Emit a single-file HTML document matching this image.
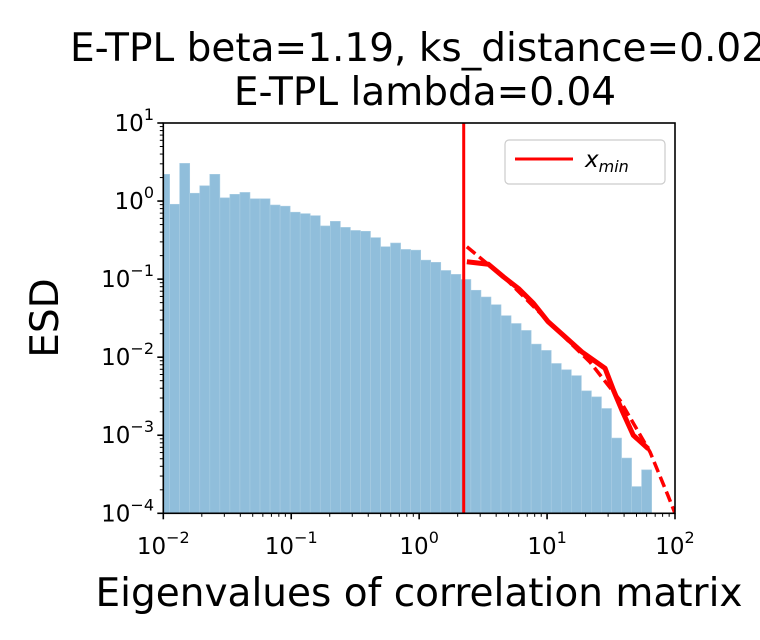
<!DOCTYPE html>
<html><head><meta charset="utf-8">
<style>
html,body{margin:0;padding:0;background:#fff;}
svg{display:block;font-family:"DejaVu Sans","Liberation Sans",sans-serif;}
</style></head>
<body>
<svg id="chart" width="760" height="640" viewBox="0 0 760 640" xmlns="http://www.w3.org/2000/svg">
<defs><clipPath id="plotclip"><rect x="163.3" y="123" width="511.7" height="390.3"/></clipPath></defs>
<text x="70" y="61" font-size="39">E-TPL beta=1.19, ks_distance=0.02</text>
<text x="425" y="105" font-size="39" text-anchor="middle">E-TPL lambda=0.04</text>
<g id="bars" clip-path="url(#plotclip)"></g>
<g id="lines" clip-path="url(#plotclip)"></g>
<rect x="163.3" y="123" width="511.7" height="390.3" fill="none" stroke="#000" stroke-width="1.6"/>
<g id="ticks"></g>
<text transform="translate(58,318) rotate(-90)" font-size="39" text-anchor="middle">ESD</text>
<text x="419" y="606" font-size="39" text-anchor="middle">Eigenvalues of correlation matrix</text>
<g>
<rect x="505" y="140" width="160" height="44" rx="4" fill="#fff" stroke="#ccc" stroke-width="1.2"/>
<line x1="515" y1="159" x2="573" y2="159" stroke="#ff0000" stroke-width="3"/>
<text x="585" y="167" font-size="23" font-style="italic">x<tspan font-size="16" dy="5">min</tspan></text>
</g>
</svg>
<script>
const binStartLog = -2.029;
const binWidthLog = 0.0785;
const esdValues = [2.2,0.91,3.04,1.26,1.57,2.2,1.10,1.22,1.29,1.07,1.07,0.89,0.86,0.72,0.69,0.65,0.48,0.55,0.46,0.42,0.41,0.34,0.26,0.29,0.24,0.235,0.175,0.164,0.129,0.115,0.099,0.072,0.059,0.047,0.034,0.027,0.022,0.0147,0.0122,0.0083,0.0069,0.0058,0.0037,0.0031,0.0022,0.00092,0.00051,0.00022,0.00036];
const xminValue = 2.23;
const solidX = [2.36,3.48,4.56,5.97,7.82,10.2,13.4,18.7,28.4,33.0,38.4,47.2,61.8];
const solidY = [0.167,0.155,0.107,0.076,0.049,0.0284,0.0191,0.0117,0.0072,0.0038,0.0021,0.0010,0.00067];
const fitX = [2.36,4.87,10.2,21.7,37.2,63.8,88,100,109];
const fitY = [0.26,0.097,0.029,0.0086,0.0028,0.00061,0.00017,0.0001,0.00006];
const xTickExps = [-2,-1,0,1,2];
const yTickExps = [-4,-3,-2,-1,0,1];

const X0=163.3, X1=675, Y0=513.3, Y1=123;
function xs(v){return X0+(Math.log10(v)+2)/4*(X1-X0);}
function xsLog(l){return X0+(l+2)/4*(X1-X0);}
function ys(v){return Y0-(Math.log10(v)+4)/5*(Y0-Y1);}
const NS="http://www.w3.org/2000/svg";
function mk(t,a,p){const e=document.createElementNS(NS,t);for(const k in a)e.setAttribute(k,a[k]);p.appendChild(e);return e;}

const bars=document.getElementById('bars');
esdValues.forEach((v,i)=>{
  const l0=binStartLog+i*binWidthLog, l1=l0+binWidthLog;
  const x0=xsLog(l0), x1=xsLog(l1), y=ys(v);
  const r=mk('rect',{x:x0,y:y,width:x1-x0,height:Y0-y,fill:'#90bedb',stroke:'#a9cde3','stroke-width':0.6},bars);
  
  
});

const lines=document.getElementById('lines');
const vx=xs(xminValue);
const vl=mk('line',{x1:vx,y1:Y1,x2:vx,y2:Y0,stroke:'#ff0000','stroke-width':3},lines);


const fp=mk('polyline',{points:fitX.map((x,i)=>xs(x)+','+ys(fitY[i])).join(' '),fill:'none',stroke:'#ff0000','stroke-width':3.5,'stroke-dasharray':'11,5'},lines);


const sp=mk('polyline',{points:solidX.map((x,i)=>xs(x)+','+ys(solidY[i])).join(' '),fill:'none',stroke:'#ff0000','stroke-width':5,'stroke-linejoin':'round'},lines);



const tk=document.getElementById('ticks');
xTickExps.forEach(e=>{
  const x=xsLog(e);
  const t=mk('line',{x1:x,y1:Y0,x2:x,y2:Y0+6,stroke:'#000','stroke-width':1.6},tk);
  
  
  const tx=mk('text',{x:x,y:554,'font-size':23,'text-anchor':'middle'},tk);
  
  
  tx.innerHTML='10<tspan font-size="16" dy="-11">'+(e<0?'\u2212'+(-e):e)+'</tspan>';
  if(e<2){for(let m=2;m<10;m++){const xm=xsLog(e+Math.log10(m));
    const mt=mk('line',{x1:xm,y1:Y0,x2:xm,y2:Y0+3.5,stroke:'#000','stroke-width':1},tk);
    
    }}
});
yTickExps.forEach(e=>{
  const y=Y0-(e+4)/5*(Y0-Y1);
  const t=mk('line',{x1:X0-6,y1:y,x2:X0,y2:y,stroke:'#000','stroke-width':1.6},tk);
  
  
  const tx=mk('text',{x:154,y:y+8,'font-size':23,'text-anchor':'end'},tk);
  
  
  tx.innerHTML='10<tspan font-size="16" dy="-11">'+(e<0?'\u2212'+(-e):e)+'</tspan>';
  if(e<1){for(let m=2;m<10;m++){const ym=Y0-(e+Math.log10(m)+4)/5*(Y0-Y1);
    const mt=mk('line',{x1:X0-3.5,y1:ym,x2:X0,y2:ym,stroke:'#000','stroke-width':1},tk);
    
    }}
});
</script>
</body></html>
